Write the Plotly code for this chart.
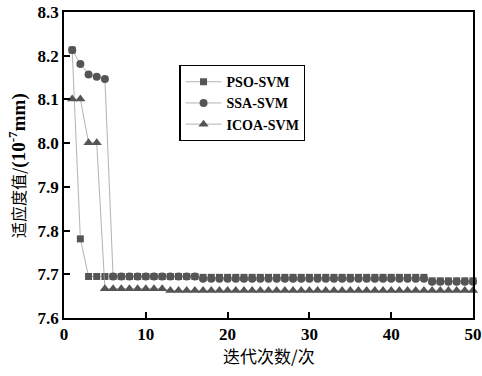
import plotly.graph_objects as go

iterations = list(range(1, 51))
pso_svm = [8.213, 7.781] + [7.695] * 14 + [7.693] * 28 + [7.685] * 6
ssa_svm = [8.213, 8.181, 8.157, 8.152, 8.147] + [7.695] * 11 + [7.690] * 28 + [7.683] * 6
icoa_svm = [8.101, 8.101, 8.001, 8.001] + [7.667] * 8 + [7.663] * 38

x_ticks = [0, 10, 20, 30, 40, 50]
y_ticks = [7.6, 7.7, 7.8, 7.9, 8.0, 8.1, 8.2, 8.3]

mcol = "#555555"
lcol = "#a0a0a0"
serif = "Liberation Serif"
cjk = "Noto Sans CJK SC"

fig = go.Figure()
series = [
    ("PSO-SVM", pso_svm, "square", 7),
    ("SSA-SVM", ssa_svm, "circle", 8),
    ("ICOA-SVM", icoa_svm, "triangle-up", 9),
]
for name, ys, sym, sz in series:
    fig.add_trace(go.Scatter(
        x=iterations, y=ys, name=f"<b>{name}</b>", mode="lines+markers",
        line=dict(color=lcol, width=0.8),
        marker=dict(symbol=sym, size=sz, color=mcol, line=dict(width=0)),
        cliponaxis=False,
    ))

axis_common = dict(
    ticks="inside", ticklen=6, tickwidth=1.5, tickcolor="black",
    showline=True, linecolor="black", linewidth=1.5, mirror=True,
    showgrid=False, zeroline=False, automargin=False,
    tickfont=dict(family=serif, size=17, color="black"),
)

fig.update_layout(
    width=482, height=376,
    margin=dict(l=64, r=9, t=12, b=58),
    plot_bgcolor="white", paper_bgcolor="white",
    showlegend=True,
    legend=dict(
        x=0.282, y=0.827, xanchor="left", yanchor="top",
        bordercolor="black", borderwidth=1.2, bgcolor="white",
        font=dict(family=serif, size=14, color="black"),
        tracegroupgap=0, itemwidth=36,
    ),
    xaxis=dict(range=[0, 50], tickvals=x_ticks,
               ticktext=[f"<b>{v}</b>" for v in x_ticks], **axis_common),
    yaxis=dict(range=[7.6, 8.3], tickvals=y_ticks,
               ticktext=[f"<b>{v:.1f}</b>" for v in y_ticks], **axis_common),
    annotations=[
        dict(text="迭代次数/次", xref="paper", yref="paper", x=0.5, y=-0.121,
             showarrow=False, xanchor="center", yanchor="middle",
             font=dict(family=cjk, size=17, color="black")),
        dict(text="适应度值/<span style=\"font-family:Liberation Serif;font-size:19px\"><b>(10<sup>-7</sup>mm)</b></span>",
             xref="paper", yref="paper", x=-0.115, y=0.5, textangle=-90,
             showarrow=False, xanchor="center", yanchor="middle",
             font=dict(family=cjk, size=16, color="black")),
    ],
)

fig.write_html("out.html", config={"displayModeBar": False},
               post_script="document.body.style.margin='0px';")
